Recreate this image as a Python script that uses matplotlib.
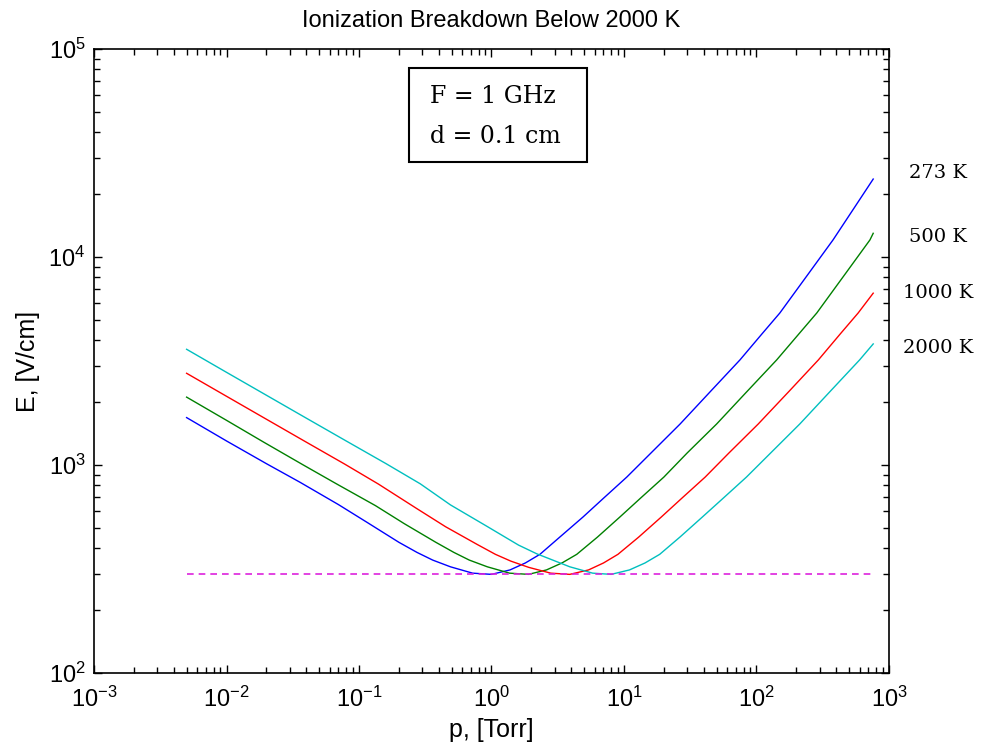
import matplotlib
matplotlib.use("Agg")
import matplotlib.pyplot as plt
from matplotlib.patches import Rectangle
from matplotlib.ticker import NullFormatter

# breakdown field vs pressure
p_273 = [0.005, 0.01, 0.02, 0.036, 0.07, 0.115, 0.2, 0.274, 0.36, 0.49, 0.72, 1.0, 1.38, 1.8,
         2.32, 3.3, 4.9, 7.0, 10.5, 16, 26.5, 45, 75, 110, 150, 250, 378, 550, 760]
E_273 = [1690, 1305, 1015, 825, 645, 530, 425, 380, 349, 324, 302, 298, 313, 338,
         372, 452, 562, 692, 875, 1143, 1574, 2260, 3200, 4270, 5380, 8410, 12080, 17340, 23700]

p_500 = [0.005, 0.01, 0.019, 0.038, 0.068, 0.133, 0.22, 0.38, 0.52, 0.68, 0.93, 1.37, 1.9, 2.6,
         3.4, 4.4, 6.3, 9.3, 13.3, 20, 30, 50, 85, 142, 209, 285, 475, 718, 760]
E_500 = [2120, 1640, 1290, 1000, 810, 638, 522, 425, 380, 349, 324, 302, 298, 313,
         338, 372, 450, 562, 692, 875, 1143, 1574, 2260, 3200, 4270, 5380, 8410, 12080, 13000]

p_1000 = [0.005, 0.01, 0.02, 0.039, 0.078, 0.14, 0.27, 0.45, 0.78, 1.07, 1.4, 1.91, 2.8, 3.9,
          5.4, 7.0, 9.0, 12.9, 19.1, 27.3, 41, 62, 103, 176, 293, 429, 585, 760]
E_1000 = [2760, 2140, 1660, 1300, 1010, 810, 620, 505, 415, 372, 345, 322, 302, 298,
          313, 338, 372, 450, 562, 692, 875, 1143, 1574, 2260, 3200, 4270, 5380, 6700]

p_2000 = [0.005, 0.01, 0.02, 0.04, 0.08, 0.16, 0.29, 0.49, 0.92, 1.6, 2.2, 2.9, 3.9, 5.8,
          8.0, 11, 14.4, 18.6, 26.4, 39, 56, 84, 128, 212, 360, 600, 760]
E_2000 = [3600, 2790, 2165, 1680, 1305, 1015, 812, 643, 508, 412, 374, 349, 324, 302,
          298, 313, 338, 372, 450, 562, 692, 875, 1143, 1574, 2260, 3200, 3820]

p_lim = [0.005, 760]
E_lim = [300, 300]

curves = [(p_273, E_273, "#0000ff"), (p_500, E_500, "#008000"),
          (p_1000, E_1000, "#ff0000"), (p_2000, E_2000, "#00bfbf")]
temp_labels = ["273 K", "500 K", "1000 K", "2000 K"]

plt.rcParams["font.family"] = ["Liberation Sans", "DejaVu Sans"]

fig = plt.figure(figsize=(9.81, 7.53), dpi=100)
ax = fig.add_axes([94 / 981, 1 - 673 / 753, 795 / 981, 624 / 753])

for p, E, c in curves:
    ax.plot(p, E, color=c, lw=1.0)
ax.plot(p_lim, E_lim, color="#dd22dd", lw=1.2, ls=(0, (4, 3)))

ax.set_xscale("log")
ax.set_yscale("log")
ax.set_xlim(1e-3, 1e3)
ax.set_ylim(1e2, 1e5)
ax.xaxis.set_minor_formatter(NullFormatter())
ax.yaxis.set_minor_formatter(NullFormatter())

ax.tick_params(which="both", direction="in", top=True, right=True, labelsize=17, width=1)
ax.tick_params(which="major", length=6)
ax.tick_params(axis="x", which="major", pad=10)
ax.tick_params(axis="y", which="major", pad=6)
ax.tick_params(which="minor", length=4)
for s in ax.spines.values():
    s.set_linewidth(1.2)

ax.set_title("Ionization Breakdown Below 2000 K", fontsize=17, pad=16)
ax.set_xlabel("p, [Torr]", fontsize=18, labelpad=4)
ax.set_ylabel("E, [V/cm]", fontsize=18, labelpad=6)

# parameter box
fig.patches.append(Rectangle((409 / 981, 1 - 162 / 753), 178 / 981, 94 / 753,
                             transform=fig.transFigure, fill=False, ec="black", lw=1.5))
fig.text(430 / 981, 1 - 103 / 753, "F = 1 GHz", fontsize=17, family="DejaVu Serif", va="baseline")
fig.text(430 / 981, 1 - 143 / 753, "d = 0.1 cm", fontsize=17, family="DejaVu Serif", va="baseline")

for lbl, y in zip(temp_labels, [173, 237, 293, 348]):
    fig.text(938 / 981, 1 - y / 753, lbl, fontsize=14, family="DejaVu Serif",
             ha="center", va="center")

fig.savefig("out.png", dpi=100)
